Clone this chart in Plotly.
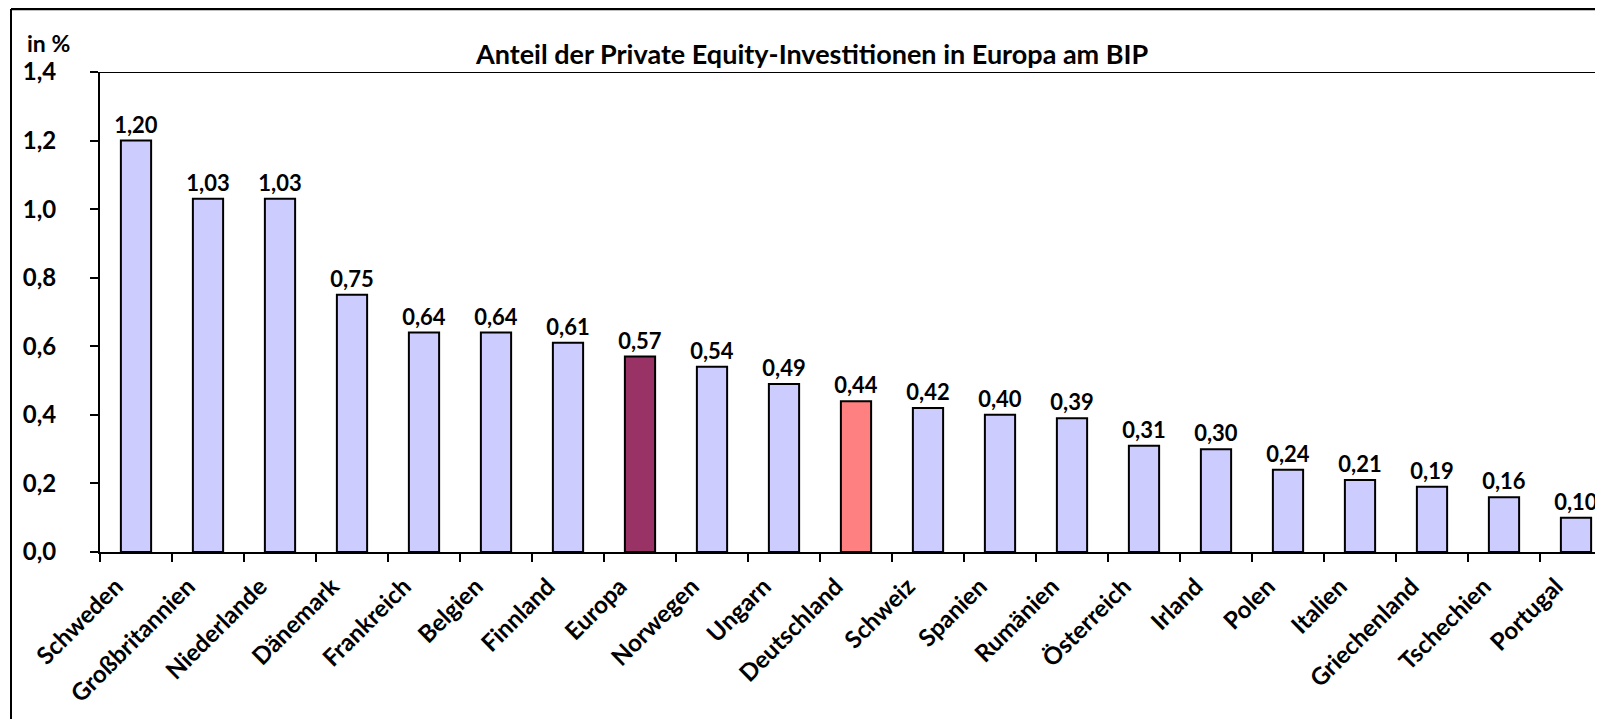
import plotly.graph_objects as go

categories = ["Schweden", "Großbritannien", "Niederlande", "Dänemark", "Frankreich",
              "Belgien", "Finnland", "Europa", "Norwegen", "Ungarn", "Deutschland",
              "Schweiz", "Spanien", "Rumänien", "Österreich", "Irland", "Polen",
              "Italien", "Griechenland", "Tschechien", "Portugal"]
values = [1.20, 1.03, 1.03, 0.75, 0.64, 0.64, 0.61, 0.57, 0.54, 0.49, 0.44,
          0.42, 0.40, 0.39, 0.31, 0.30, 0.24, 0.21, 0.19, 0.16, 0.10]
y_ticks = [0.0, 0.2, 0.4, 0.6, 0.8, 1.0, 1.2, 1.4]
title_text = "Anteil der Private Equity-Investitionen in Europa am BIP"
unit_text = "in %"

base_color = "#CCCCFF"
special = {"Europa": "#993366", "Deutschland": "#FF8080"}
colors = [special.get(c, base_color) for c in categories]

FONT = "Lato"
OFF = 8  # page body margin
W, H = 1603 - OFF, 719 - OFF
ML, MR, MT, MB = 100 - OFF, 0, 72 - OFF, 719 - 552
plot_w = W - ML - MR
plot_h = H - MT - MB

fig = go.Figure(go.Bar(
    x=categories, y=values,
    marker=dict(color=colors, line=dict(color="black", width=2)),
    width=0.42,
    text=values, texttemplate="%{y:.2f}", textposition="outside",
    textfont=dict(family=FONT, size=22, color="black", weight="bold"),
    constraintext="none",
    cliponaxis=False,
))

# page-pixel -> paper coordinates
def px_to_paper_x(px):
    return (px - OFF - ML) / plot_w

def px_to_paper_y(py):
    return (H - MB - (py - OFF)) / plot_h

fig.update_layout(
    width=W, height=H,
    margin=dict(l=ML, r=MR, t=MT, b=MB, autoexpand=False),
    paper_bgcolor="white", plot_bgcolor="white",
    separators=",.",
    showlegend=False,
    font=dict(family=FONT, color="black"),
    xaxis=dict(
        range=[-0.5, -0.5 + plot_w / 72.0],
        automargin=False,
        showline=True, linecolor="black", linewidth=2,
        ticks="outside", tickson="boundaries", ticklen=8, tickwidth=2, tickcolor="black",
        tickangle=-45,
        ticklabelshift=-20,
        ticklabelstandoff=9,
        tickfont=dict(family=FONT, size=24, color="black", weight="bold"),
        showgrid=False, zeroline=False,
    ),
    yaxis=dict(
        range=[0, 1.4], tickvals=y_ticks, tickformat=".1f",
        automargin=False,
        showline=True, linecolor="black", linewidth=2,
        ticks="outside", ticklen=8, tickwidth=2, tickcolor="black",
        tickfont=dict(family=FONT, size=24, color="black", weight="bold"),
        ticklabelstandoff=29,
        showgrid=False, zeroline=False,
    ),
    shapes=[
        dict(type="line", xref="paper", yref="y", x0=0, x1=1, y0=1.4, y1=1.4,
             line=dict(color="black", width=2)),
        dict(type="line", xref="paper", yref="paper",
             x0=px_to_paper_x(11), x1=px_to_paper_x(11),
             y0=px_to_paper_y(9), y1=px_to_paper_y(730),
             line=dict(color="black", width=2)),
        dict(type="line", xref="paper", yref="paper",
             x0=px_to_paper_x(11), x1=px_to_paper_x(1620),
             y0=px_to_paper_y(9), y1=px_to_paper_y(9),
             line=dict(color="black", width=2.5)),
    ],
    annotations=[
        dict(text=title_text, xref="paper", yref="paper",
             x=px_to_paper_x(812), y=px_to_paper_y(54), xanchor="center", yanchor="middle",
             showarrow=False, font=dict(family=FONT, size=27, color="black", weight="bold")),
        dict(text=unit_text, xref="paper", yref="paper",
             x=px_to_paper_x(25), y=px_to_paper_y(43), xanchor="left", yanchor="middle",
             showarrow=False, font=dict(family=FONT, size=23, color="black", weight="bold")),
    ],
)

fig.write_html("out.html")
